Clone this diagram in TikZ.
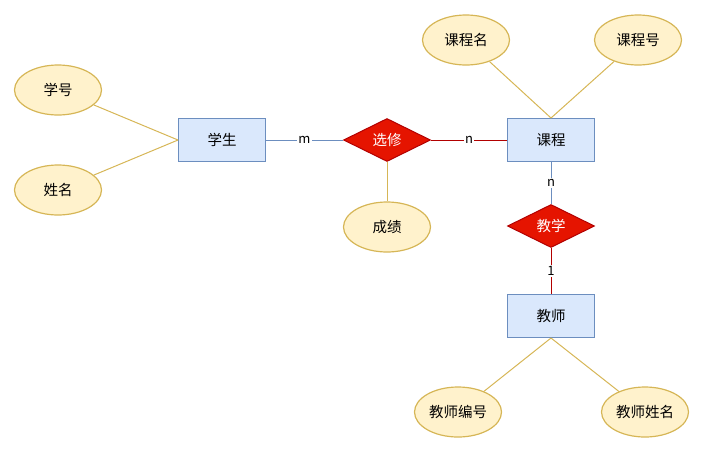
\documentclass[tikz,border=0pt]{standalone}
\usepackage{fontspec}
\setmainfont{Noto Sans CJK SC}
\usetikzlibrary{shapes.geometric}
\definecolor{entfill}{HTML}{DAE8FC}
\definecolor{entline}{HTML}{6C8EBF}
\definecolor{attfill}{HTML}{FFF2CC}
\definecolor{attline}{HTML}{D6B656}
\definecolor{relfill}{HTML}{E51400}
\definecolor{relline}{HTML}{B20000}
\begin{document}
\begin{tikzpicture}[x=1pt,y=-1pt,
    entity/.style={draw=entline,fill=entfill,line width=1pt,minimum width=87pt,minimum height=43pt,inner sep=0pt,font=\fontsize{14.5}{17}\selectfont},
    attr/.style={ellipse,draw=attline,fill=attfill,line width=1.2pt,minimum width=87pt,minimum height=50pt,inner sep=0pt,font=\fontsize{14.5}{17}\selectfont},
    relation/.style={diamond,aspect=2,draw=relline,fill=relfill,text=white,line width=1pt,minimum width=87pt,minimum height=43pt,inner sep=0pt,font=\fontsize{14.5}{17}\selectfont},
    card/.style={midway,fill=white,text=black,inner sep=1.5pt,font=\fontsize{13}{15}\selectfont},
    attlink/.style={draw=attline,line width=1pt}]
    \useasboundingbox (0,0) rectangle (703,453);

    % entities and relations
    \node[entity] (student) at (222,140) {学生};
    \node[entity] (course) at (551,140) {课程};
    \node[entity] (teacher) at (551,316) {教师};
    \node[relation] (xuanxiu) at (387,140) {选修};
    \node[relation] (jiaoxue) at (551,226) {教学};

    % attributes
    \node[attr] (xuehao) at (58,90) {学号};
    \node[attr] (xingming) at (58,190) {姓名};
    \node[attr] (chengji) at (387,227) {成绩};
    \node[attr] (kcming) at (466,40) {课程名};
    \node[attr] (kchao) at (638,40) {课程号};
    \node[attr] (jsbianhao) at (458,412) {教师编号};
    \node[attr] (jsxingming) at (645,412) {教师姓名};

    % attribute links
    \foreach \a in {xuehao,xingming}{
        \draw[attlink] (\a) -- (student.west);
    }
    \foreach \a in {kcming,kchao}{
        \draw[attlink] (\a) -- (course.north);
    }
    \foreach \a in {jsbianhao,jsxingming}{
        \draw[attlink] (\a) -- (teacher.south);
    }
    \draw[attlink] (xuanxiu.south) -- (chengji);

    % relation links
    \draw[entline,line width=1pt] (student) -- (xuanxiu) node[card] {m};
    \draw[relline,line width=1pt] (xuanxiu) -- (course) node[card] {n};
    \draw[entline,line width=1pt] (course) -- (jiaoxue) node[card] {n};
    \draw[relline,line width=1pt] (jiaoxue) -- (teacher) node[card] {1};
\end{tikzpicture}
\end{document}
